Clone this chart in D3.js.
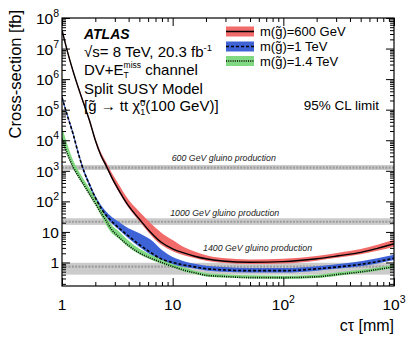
<!DOCTYPE html>
<html>
<head>
<meta charset="utf-8">
<script src="https://cdnjs.cloudflare.com/ajax/libs/d3/7.8.5/d3.min.js"></script>
<style>
  body { margin: 0; background: #fff; }
  svg { display: block; font-family: "Liberation Sans", Arial, sans-serif; }
  text { white-space: pre; }
</style>
</head>
<body>
<div id="chart"></div>
<script>
// c-tau grid [mm]
const ctValues = [1, 1.12, 1.26, 1.41, 1.58, 1.78, 2, 2.24, 2.51, 2.82, 3.16, 3.98, 5.01, 6.31, 7.94, 10, 12.6, 15.8, 20, 28.2, 50, 100, 200, 316, 501, 708, 1000];

// m(gluino) = 600 GeV, limit and band [fb]
const red600 = [4.0e7, 7.9e6, 1.8e6, 5.0e5, 1.5e5, 4.2e4, 1.0e4, 3.3e3, 1.45e3, 600, 280, 72, 26, 9.8, 4.5, 2.8, 2.05, 1.6, 1.32, 1.12, 1.02, 1.07, 1.32, 1.66, 2.14, 2.9, 4.1];
const red600Hi = [4.6e7, 9.1e6, 2.0e6, 5.8e5, 1.7e5, 4.9e4, 1.2e4, 4.1e3, 1.9e3, 850, 430, 115, 46, 19.5, 9.3, 5.4, 3.2, 2.3, 1.74, 1.41, 1.26, 1.32, 1.62, 2.09, 2.75, 3.8, 5.5];
const red600Lo = [3.5e7, 6.9e6, 1.55e6, 4.4e5, 1.3e5, 3.6e4, 8.7e3, 2.9e3, 1.26e3, 525, 245, 63, 22.4, 8.1, 3.7, 2.35, 1.74, 1.41, 1.15, 0.98, 0.89, 0.93, 1.15, 1.45, 1.86, 2.4, 3.3];

// m(gluino) = 1 TeV
const blue1000 = [2.5e5, 6.3e4, 1.6e4, 3.5e3, 950, 340, 132, 62, 35, 22, 15, 7.4, 3.8, 2.14, 1.29, 1.0, 0.83, 0.72, 0.63, 0.575, 0.54, 0.54, 0.62, 0.72, 0.87, 1.07, 1.38];
const blue1000Hi = [3.0e5, 7.4e4, 1.9e4, 4.2e3, 1.12e3, 400, 155, 78, 46, 31, 23, 13.2, 9.1, 5.6, 2.6, 1.5, 1.1, 0.91, 0.78, 0.71, 0.66, 0.66, 0.76, 0.89, 1.1, 1.38, 1.8];
const blue1000Lo = [2.2e5, 5.5e4, 1.38e4, 3.1e3, 830, 295, 115, 54, 30, 19, 13.2, 6.2, 3.2, 1.78, 1.07, 0.83, 0.72, 0.63, 0.55, 0.5, 0.47, 0.47, 0.54, 0.63, 0.76, 0.93, 1.2];

// m(gluino) = 1.4 TeV
const green1400 = [1.12e4, 3.5e3, 1.32e3, 660, 340, 170, 85, 43, 23, 11.7, 7.6, 3.6, 2.04, 1.38, 1.0, 0.74, 0.56, 0.46, 0.38, 0.35, 0.32, 0.32, 0.34, 0.41, 0.49, 0.59, 0.72];
const green1400Hi = [2.8e4, 7.1e3, 2.2e3, 1.0e3, 510, 257, 129, 60, 30, 16.6, 11.5, 5.2, 2.8, 1.82, 1.26, 0.89, 0.68, 0.54, 0.45, 0.41, 0.38, 0.37, 0.4, 0.48, 0.58, 0.69, 0.85];
const green1400Lo = [8.9e3, 3.2e3, 1.17e3, 590, 300, 151, 76, 35, 16.6, 9.1, 6.6, 3.2, 1.86, 1.26, 0.91, 0.68, 0.51, 0.42, 0.35, 0.32, 0.3, 0.29, 0.31, 0.37, 0.45, 0.54, 0.66];

// gluino pair production cross-sections [fb]: [nominal, low, high]
const prodLabels = ['600 GeV gluino production', '1000 GeV gluino production', '1400 GeV gluino production'];
const prodXsec = [[1.28e3, 1.06e3, 1.55e3], [21.5, 17, 28], [0.73, 0.4, 0.98]];
// where the labels sit (c-tau, cross-section of text baseline)
const prodLabelCt = [9.8, 9.5, 18.8];
const prodLabelXsec = [2.1e3, 33, 2.4];

const xMajor = [1, 10, 100, 1000];
const yMajor = [1, 10, 1e2, 1e3, 1e4, 1e5, 1e6, 1e7, 1e8];

const W = 415, H = 342;
const mLeft = 62, mRight = 394, mTop = 18, mBottom = 286;

const svg = d3.select('#chart').append('svg')
    .attr('width', W).attr('height', H);

const x = d3.scaleLog().domain([1, 1000]).range([mLeft, mRight]);
const y = d3.scaleLog().domain([0.17, 1e8]).range([mBottom, mTop]);

svg.append('clipPath').attr('id', 'plot')
    .append('rect').attr('x', mLeft).attr('y', mTop)
    .attr('width', mRight - mLeft).attr('height', mBottom - mTop);

const plot = svg.append('g').attr('clip-path', 'url(#plot)');

// Production cross-section bands
prodXsec.forEach(p => {
    plot.append('rect')
        .attr('x', mLeft).attr('width', mRight - mLeft)
        .attr('y', y(p[2])).attr('height', y(p[1]) - y(p[2]))
        .attr('fill', '#cbcbcb');
    plot.append('line')
        .attr('x1', mLeft).attr('x2', mRight)
        .attr('y1', y(p[0])).attr('y2', y(p[0]))
        .attr('stroke', '#9c9c9c').attr('stroke-width', 2.2)
        .attr('stroke-dasharray', '2,1.3');
});

prodLabels.forEach((t, i) => {
    svg.append('text')
        .attr('x', x(prodLabelCt[i]))
        .attr('y', y(prodLabelXsec[i]))
        .style('font-size', '8.8px').style('font-style', 'italic')
        .attr('fill', '#222').text(t);
});

const series = [
    { mid: red600, lo: red600Lo, hi: red600Hi, fill: '#f26b6b', dash: null },
    { mid: blue1000, lo: blue1000Lo, hi: blue1000Hi, fill: '#3d63d6', dash: '3,2' },
    { mid: green1400, lo: green1400Lo, hi: green1400Hi, fill: '#80d880', dash: '1,1.2' }
];

const area = (lo, hi) => d3.area()
    .x((d, i) => x(ctValues[i]))
    .y0((d, i) => y(lo[i]))
    .y1((d, i) => y(hi[i]))
    .curve(d3.curveMonotoneX)(ctValues);

const line = vals => d3.line()
    .x((d, i) => x(ctValues[i]))
    .y((d, i) => y(vals[i]))
    .curve(d3.curveMonotoneX)(ctValues);

series.forEach(s => {
    plot.append('path').attr('d', area(s.lo, s.hi)).attr('fill', s.fill);
});
series.forEach(s => {
    plot.append('path').attr('d', line(s.mid))
        .attr('fill', 'none').attr('stroke', '#000')
        .attr('stroke-width', s.dash ? 1.6 : 1.4)
        .attr('stroke-dasharray', s.dash);
});

// Axes (ticks inward on all four sides)
const minorOf = (lo, hi) => {
    const out = [];
    for (let e = lo; e < hi; e++) for (let k = 2; k <= 9; k++) out.push(k * Math.pow(10, e));
    return out;
};
const xMinor = minorOf(0, 3);
const yMinor = minorOf(-1, 8).filter(v => v >= 0.17);

function addAxis(axisFn, scale, vals, size, tr) {
    svg.append('g').attr('transform', tr)
        .call(axisFn(scale).tickValues(vals).tickSize(size).tickFormat(''))
        .call(g => g.select('.domain').remove())
        .selectAll('line').attr('stroke', '#000').attr('stroke-width', 1);
}
addAxis(d3.axisBottom, x, xMajor, -8, `translate(0,${mBottom})`);
addAxis(d3.axisBottom, x, xMinor, -4, `translate(0,${mBottom})`);
addAxis(d3.axisTop, x, xMajor, -8, `translate(0,${mTop})`);
addAxis(d3.axisTop, x, xMinor, -4, `translate(0,${mTop})`);
addAxis(d3.axisLeft, y, yMajor, -8, `translate(${mLeft},0)`);
addAxis(d3.axisLeft, y, yMinor, -4, `translate(${mLeft},0)`);
addAxis(d3.axisRight, y, yMajor, -8, `translate(${mRight},0)`);
addAxis(d3.axisRight, y, yMinor, -4, `translate(${mRight},0)`);

svg.append('rect')
    .attr('x', mLeft).attr('y', mTop)
    .attr('width', mRight - mLeft).attr('height', mBottom - mTop)
    .attr('fill', 'none').attr('stroke', '#000').attr('stroke-width', 1.2);

// Tick labels
function powLabel(sel, v) {
    const e = Math.round(Math.log10(v));
    if (e === 0) sel.text('1');
    else if (e === 1) sel.text('10');
    else {
        sel.text('10');
        sel.append('tspan').attr('dy', -7).style('font-size', '10.5px').text(e);
    }
}
yMajor.forEach(v => {
    svg.append('text')
        .attr('x', 59).attr('y', y(v) + 6)
        .attr('text-anchor', 'end').style('font-size', '15.5px')
        .call(powLabel, v);
});
xMajor.forEach(v => {
    svg.append('text')
        .attr('x', x(v)).attr('y', 310)
        .attr('text-anchor', 'middle').style('font-size', '15.5px')
        .call(powLabel, v);
});

svg.append('text')
    .attr('transform', 'translate(21,10) rotate(-90)')
    .attr('text-anchor', 'end').style('font-size', '16.5px')
    .text('Cross-section [fb]');
svg.append('text')
    .attr('x', mRight).attr('y', 331)
    .attr('text-anchor', 'end').style('font-size', '16px')
    .text('cτ [mm]');

// Rich text helper: parts laid out left to right, "stack" puts a part over the previous one
function rich(x0, y0, parts, fs) {
    let cx = x0, prevStart = x0;
    parts.forEach(p => {
        const sx = p.stack ? prevStart : cx;
        const t = svg.append('text').attr('x', sx).attr('y', y0 + (p.dy || 0))
            .style('font-size', (p.fs || fs) + 'px').text(p.t);
        if (p.style) t.style('font-style', 'italic').style('font-weight', 'bold');
        const w = t.node().getComputedTextLength();
        if (p.stack) cx = Math.max(cx, sx + w);
        else { prevStart = sx; cx = sx + w; }
    });
}

rich(84, 39, [{ t: 'ATLAS', style: 1 }], 14);
rich(84, 56.5, [{ t: '√s= 8 TeV, 20.3 fb' }, { t: '-1', fs: 9.5, dy: -6 }], 15);
rich(84, 74.5, [{ t: 'DV+E' }, { t: 'miss', fs: 8.5, dy: -7 }, { t: 'T', fs: 8.5, dy: 3, stack: 1 }, { t: ' channel' }], 15);
rich(84, 93.5, [{ t: 'Split SUSY Model' }], 15);
rich(84, 111, [{ t: '[g̃ → tt χ̃' }, { t: '0', fs: 9, dy: -5 }, { t: '1', fs: 9, dy: 4, stack: 1 }, { t: '(100 GeV)]' }], 15);

svg.append('text')
    .attr('x', 379).attr('y', 110)
    .attr('text-anchor', 'end').style('font-size', '13.5px')
    .text('95% CL limit');

// Legend
const legendNames = ['m(g̃)=600 GeV', 'm(g̃)=1 TeV', 'm(g̃)=1.4 TeV'];
const legendRowY = [31.5, 46.5, 61];
series.forEach((s, i) => {
    const cy = legendRowY[i];
    svg.append('rect').attr('x', 226).attr('y', cy - 5)
        .attr('width', 28).attr('height', 10).attr('fill', s.fill);
    svg.append('line').attr('x1', 226).attr('x2', 254)
        .attr('y1', cy).attr('y2', cy)
        .attr('stroke', '#000').attr('stroke-width', 1.5)
        .attr('stroke-dasharray', s.dash);
    svg.append('text').attr('x', 260).attr('y', cy + 4.5)
        .style('font-size', '13px').text(legendNames[i]);
});
</script>
</body>
</html>
